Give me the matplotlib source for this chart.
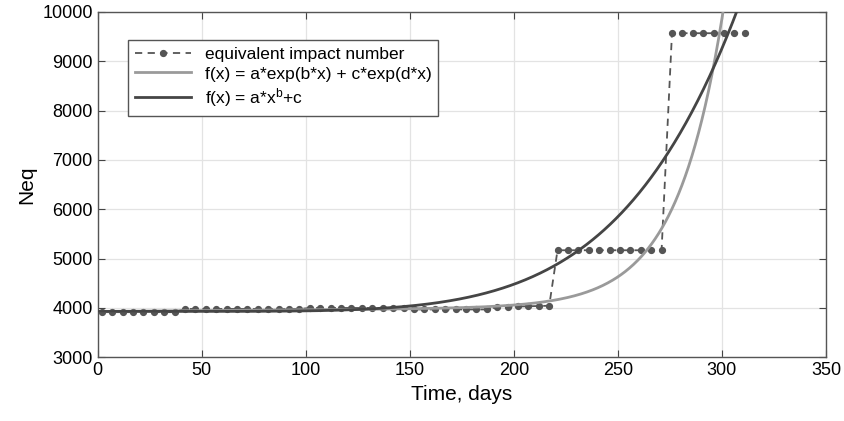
import numpy as np
import matplotlib
matplotlib.use("Agg")
import matplotlib.pyplot as plt

plt.rcParams["font.family"] = ["Liberation Sans", "DejaVu Sans"]
plt.rcParams["mathtext.default"] = "regular"

# equivalent impact number
days = [2, 7, 12, 17, 22, 27, 32, 37,
        42, 47, 52, 57, 62, 67, 72, 77, 82, 87, 92, 97,
        102, 107, 112, 117, 122, 127, 132, 137, 142, 147,
        152, 157, 162, 167, 172, 177, 182, 187,
        192, 197, 202, 207, 212, 217,
        221, 226, 231, 236, 241, 246, 251, 256, 261, 266, 271,
        276, 281, 286, 291, 296, 301, 306, 311]
neq = [3915, 3915, 3915, 3915, 3915, 3915, 3915, 3915,
       3980, 3980, 3980, 3980, 3980, 3980, 3980, 3980, 3980, 3980, 3980, 3980,
       4000, 4000, 4000, 4000, 4000, 4000, 4000, 4000, 4000, 4000,
       3970, 3970, 3970, 3970, 3970, 3970, 3970, 3970,
       4020, 4025, 4030, 4035, 4040, 4045,
       5170, 5170, 5170, 5170, 5170, 5170, 5170, 5170, 5170, 5170, 5170,
       9570, 9570, 9570, 9570, 9570, 9570, 9570, 9570]

# fit parameters (estimated from the curves)
exp_a, exp_b, exp_c, exp_d = 3930.0, 8e-5, 0.0085, 0.0448
pow_a, pow_b, pow_c = 7.16e-11, 5.6, 3930.0

x = np.linspace(0, 320, 800)
f_exp = exp_a * np.exp(exp_b * x) + exp_c * np.exp(exp_d * x)
f_pow = pow_a * x ** pow_b + pow_c

fig = plt.figure(figsize=(8.45, 4.21), dpi=100)
ax = fig.add_axes([0.1155, 0.1513, 0.862, 0.8202])

ax.plot(days, neq, color="#555555", ls=(0, (4, 3)), marker="o", lw=1.3,
        ms=4.2, label="equivalent impact number", zorder=3)
ax.plot(x, f_exp, color="#9a9a9a", lw=2.0,
        label="f(x) = a*exp(b*x) + c*exp(d*x)", zorder=4)
ax.plot(x, f_pow, color="#454545", lw=2.0,
        label="f(x) = a*x$^{b}$+c", zorder=5)

ax.set_xlim(0, 350)
ax.set_ylim(3000, 10000)
ax.set_xticks(np.arange(0, 351, 50))
ax.set_yticks(np.arange(3000, 10001, 1000))
ax.grid(True, color="#e3e3e3", lw=0.9)
ax.set_axisbelow(True)
ax.tick_params(direction="in", top=True, right=True, labelsize=13,
               color="#444444", length=5)
for s in ax.spines.values():
    s.set_color("#555555")
    s.set_linewidth(1.0)

ax.set_xlabel("Time, days", fontsize=15)
ax.set_ylabel("Neq", fontsize=15)

leg = ax.legend(loc="upper left", bbox_to_anchor=(0.042, 0.919),
                borderaxespad=0, fontsize=12.5, fancybox=False,
                framealpha=1, edgecolor="#555555", handlelength=3.2,
                labelspacing=0.25, borderpad=0.4)
leg.get_frame().set_linewidth(1.0)

fig.savefig("out.png", dpi=100)
